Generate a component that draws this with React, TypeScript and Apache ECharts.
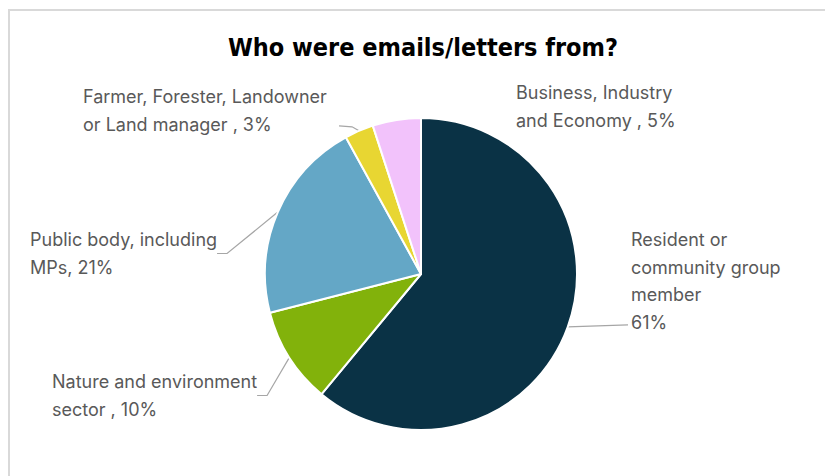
import React, { useEffect, useRef } from "react";
import * as echarts from "echarts";

const categories = [
  "Resident or\ncommunity group\nmember",
  "Nature and environment\nsector",
  "Public body, including\nMPs",
  "Farmer, Forester, Landowner\nor Land manager",
  "Business, Industry\nand Economy",
];
const values = [61, 10, 21, 3, 5];
const separators = ["\n", " , ", ", ", " , ", " , "];
const colors = ["#0a3245", "#82b20b", "#64a7c6", "#e8d632", "#f2c2fb"];
const titleText = "Who were emails/letters from?";

// label block placement (top-left corner), index matches categories
const labelPos = [
  { x: 631, y: 226 },
  { x: 52, y: 368 },
  { x: 30, y: 226 },
  { x: 83, y: 83 },
  { x: 516, y: 79 },
];

export default function App() {
  const ref = useRef<HTMLDivElement>(null);
  useEffect(() => {
    if (!ref.current) return;
    const chart = echarts.init(ref.current, null, { renderer: "svg" });
    chart.setOption({
      animation: false,
      title: {
        text: titleText,
        left: 418,
        top: 30,
        textAlign: "center",
        textStyle: {
          fontFamily: "'Liberation Sans Narrow', 'DejaVu Sans Condensed', sans-serif",
          fontWeight: "bold",
          fontSize: 25,
          color: "#000000",
        },
      },
      graphic: [
        {
          type: "rect",
          shape: { x: 9, y: 10, width: 900, height: 600 },
          style: { fill: "none", stroke: "#d9d9d9", lineWidth: 2 },
          silent: true,
        },
      ],
      series: [
        {
          type: "pie",
          center: [421, 274],
          radius: [0, 156],
          startAngle: 90,
          clockwise: true,
          percentPrecision: 0,
          itemStyle: { borderColor: "#ffffff", borderWidth: 2 },
          label: {
            show: true,
            position: "outside",
            fontFamily: "Inter, 'Noto Sans', sans-serif",
            fontSize: 18,
            lineHeight: 27.5,
            color: "#595959",
            align: "left",
            formatter: (p: any) =>
              `${p.name}${separators[p.dataIndex]}${Math.round(p.percent)}%`,
          },
          labelLine: {
            show: true,
            length2: 10,
            lineStyle: { color: "#a6a6a6", width: 1.2 },
          },
          labelLayout: (params: any) => {
            const i = params.dataIndex;
            const pos = labelPos[i];
            const out: any = {
              x: pos.x,
              y: pos.y,
              align: "left",
              verticalAlign: "top",
            };
            const pts = params.labelLinePoints;
            if (pts && pts[0]) {
              const a = pts[0];
              if (i === 0) {
                out.labelLinePoints = [a, [pos.x - 3, a[1] - 2]];
              } else if (i === 3) {
                out.labelLinePoints = [a, [a[0] - 7, a[1] - 4], [a[0] - 20, a[1] - 5]];
              }
            }
            return out;
          },
          data: categories.map((c, i) => ({
            name: c,
            value: values[i],
            itemStyle: { color: colors[i] },
            labelLine: { show: i !== 4 },
          })),
        },
      ],
    });
    return () => chart.dispose();
  }, []);
  return (
    <div
      ref={ref}
      style={{ position: "absolute", left: 0, top: 0, width: 825, height: 476 }}
    />
  );
}
